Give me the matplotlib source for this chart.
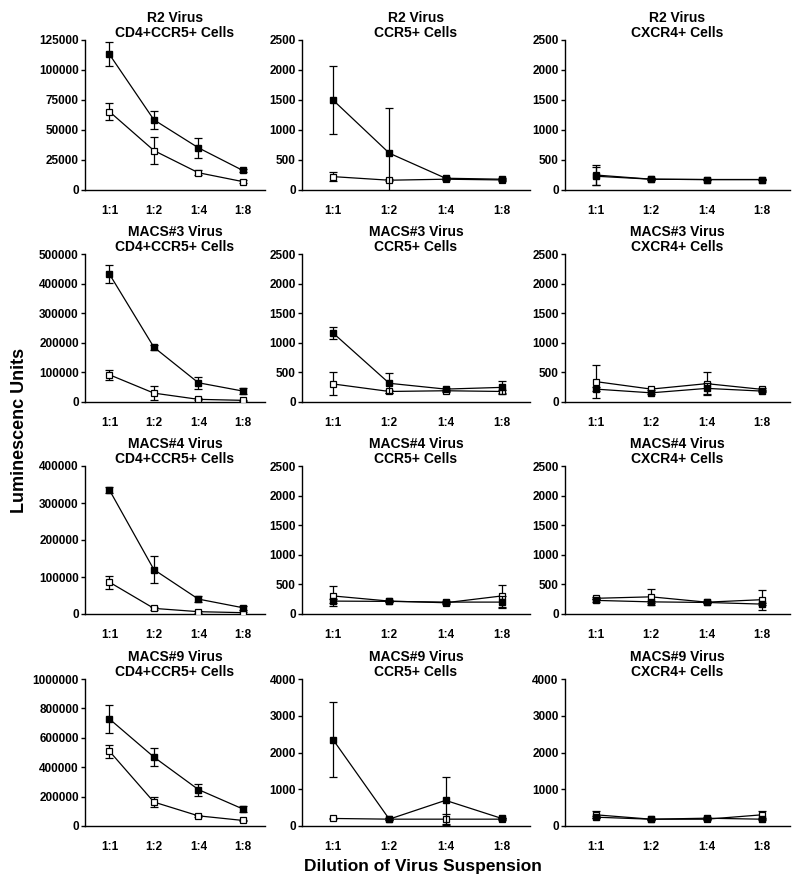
import matplotlib
matplotlib.use("Agg")
import matplotlib.pyplot as plt

plt.rcParams["font.family"] = ["Liberation Sans", "DejaVu Sans"]
plt.rcParams["font.weight"] = "bold"

dilutions = ["1:1", "1:2", "1:4", "1:8"]
viruses = ["R2", "MACS#3", "MACS#4", "MACS#9"]
cells = ["CD4+CCR5+", "CCR5+", "CXCR4+"]

# one inner list per cell type (CD4+CCR5+, CCR5+, CXCR4+), values per dilution
r2_filled = [[113000, 58500, 35200, 16300], [1500, 614, 196, 180], [230, 180, 174, 174]]
r2_filled_err = [[10000, 7500, 8500, 1500], [570, 745, 20, 15], [150, 15, 15, 15]]
r2_open = [[65300, 32900, 14400, 7000], [223, 163, 180, 168], [250, 180, 174, 174]]
r2_open_err = [[7000, 11000, 2000, 1000], [75, 15, 15, 15], [170, 15, 15, 15]]

m3_filled = [[432000, 185000, 65000, 37000], [1167, 316, 218, 247], [218, 155, 230, 184]]
m3_filled_err = [[31000, 8000, 20000, 10000], [105, 170, 25, 115], [40, 20, 90, 20]]
m3_open = [[92000, 30000, 9000, 5600], [305, 178, 190, 178], [345, 218, 310, 213]]
m3_open_err = [[16000, 23000, 3000, 2000], [195, 20, 15, 20], [276, 20, 195, 20]]

m4_filled = [[335000, 120000, 40300, 17000], [218, 213, 201, 201], [230, 205, 195, 167]]
m4_filled_err = [[8000, 36000, 8000, 5000], [40, 15, 15, 100], [30, 15, 15, 20]]
m4_open = [[86000, 15200, 6300, 3600], [305, 218, 190, 305], [265, 290, 200, 242]]
m4_open_err = [[17500, 4000, 3000, 3000], [165, 15, 15, 185], [20, 140, 15, 170]]

m9_filled = [[728000, 469000, 248000, 116000], [2353, 186, 698, 205], [240, 185, 212, 185]]
m9_filled_err = [[97000, 63000, 41000, 20000], [1010, 20, 630, 20], [30, 15, 20, 15]]
m9_open = [[509000, 163000, 69200, 37900], [205, 186, 186, 186], [305, 185, 185, 305]]
m9_open_err = [[45000, 31000, 8000, 6000], [20, 20, 150, 20], [90, 15, 15, 90]]

y_tops = [[125000, 2500, 2500], [500000, 2500, 2500], [400000, 2500, 2500], [1000000, 4000, 4000]]
y_steps = [[25000, 500, 500], [100000, 500, 500], [100000, 500, 500], [200000, 1000, 1000]]

filled = [r2_filled, m3_filled, m4_filled, m9_filled]
filled_err = [r2_filled_err, m3_filled_err, m4_filled_err, m9_filled_err]
opened = [r2_open, m3_open, m4_open, m9_open]
opened_err = [r2_open_err, m3_open_err, m4_open_err, m9_open_err]

W, H = 796, 893
fig = plt.figure(figsize=(W / 100, H / 100), dpi=100)

col_px = [(85, 180), (302, 228), (565, 225)]   # left, width
row_px = [(40, 190), (254, 402), (466, 614), (679, 826)]  # top, bottom

x = list(range(len(dilutions)))
for r in range(4):
    for c in range(3):
        left, width = col_px[c]
        top, bot = row_px[r]
        ax = fig.add_axes([left / W, 1 - bot / H, width / W, (bot - top) / H])
        ax.errorbar(x, opened[r][c], yerr=opened_err[r][c], color="black", lw=0.9,
                    marker="s", ms=5, mfc="white", mec="black", mew=0.9,
                    capsize=3, elinewidth=0.9, capthick=0.9, zorder=3)
        ax.errorbar(x, filled[r][c], yerr=filled_err[r][c], color="black", lw=0.9,
                    marker="s", ms=5, mfc="black", mec="black",
                    capsize=3, elinewidth=0.9, capthick=0.9, zorder=4)
        ax.set_xlim(-0.55, 3.5)
        ax.set_ylim(0, y_tops[r][c])
        ax.set_yticks(range(0, y_tops[r][c] + 1, y_steps[r][c]))
        ax.ticklabel_format(axis="y", style="plain", useOffset=False)
        ax.set_xticks(x)
        ax.set_xticklabels(dilutions)
        for s in ("top", "right"):
            ax.spines[s].set_visible(False)
        for s in ("left", "bottom"):
            ax.spines[s].set_linewidth(1.0)
        ax.tick_params(axis="y", length=3, width=1, labelsize=8.5, pad=1.5)
        ax.tick_params(axis="x", length=0, labelsize=8.5, pad=11)
        for lab in ax.get_xticklabels() + ax.get_yticklabels():
            lab.set_fontweight("bold")
        ax.set_title(f"{viruses[r]} Virus\n{cells[c]} Cells", fontsize=10,
                     fontweight="bold", linespacing=1.05, pad=2)

fig.text(20 / W, 1 - 430 / H, "Luminescenc Units", rotation=90, ha="center",
         va="center", fontsize=13, fontweight="bold")
fig.text(423 / W, 1 - 866 / H, "Dilution of Virus Suspension", ha="center",
         va="center", fontsize=12.5, fontweight="bold")

fig.savefig("out.png", dpi=100, facecolor="white")
